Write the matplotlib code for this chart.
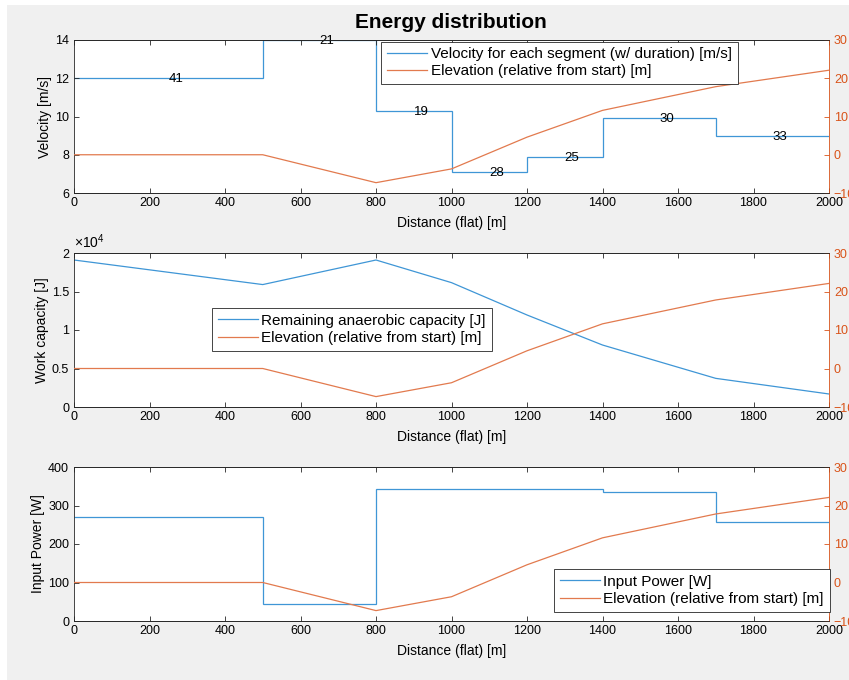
import matplotlib
matplotlib.use("Agg")
import matplotlib.pyplot as plt
from matplotlib.patches import Rectangle
from matplotlib.ticker import FuncFormatter

plt.rcParams["font.family"] = ["Liberation Sans", "DejaVu Sans"]
plt.rcParams["mathtext.fontset"] = "custom"
plt.rcParams["mathtext.rm"] = "Liberation Sans"
plt.rcParams["mathtext.it"] = "Liberation Sans"

# ---- data ----
edges = [0, 500, 800, 1000, 1200, 1400, 1700, 2000]
velocity = [12.0, 13.98, 10.28, 7.08, 7.87, 9.9, 8.98]
durations = [41, 21, 19, 28, 25, 30, 33]

elev_x = [0, 500, 800, 1000, 1200, 1400, 1700, 2000]
elevation = [0.0, 0.0, -7.3, -3.7, 4.6, 11.6, 17.8, 22.1]

cap_x = [0, 500, 800, 1000, 1200, 1400, 1700, 2000]
capacity = [19090, 15900, 19090, 16150, 11950, 8050, 3720, 1690]

power_edges = [0, 500, 800, 1400, 1700, 2000]
power = [270, 43, 343, 336, 257]

xticks = [0, 200, 400, 600, 800, 1000, 1200, 1400, 1600, 1800, 2000]
right_ticks = [-10, 0, 10, 20, 30]

# ---- style ----
BLUE = "#3f96d6"
ORANGE = "#e27a4e"
ORANGE_AX = "#D95319"
DARK = "#262626"
FIG_BG = "#f0f0f0"
LW = 0.9
TICK_FS = 9
LABEL_FS = 10
LEG_FS = 11

W, H = 849, 680
fig = plt.figure(figsize=(W / 100, H / 100), dpi=100)
fig.patch.set_facecolor("white")
fig.add_artist(Rectangle((7 / W, 0), 1 - 7 / W, 1 - 5 / H, transform=fig.transFigure,
                         facecolor=FIG_BG, edgecolor="none", zorder=-10))


def make_axes(top_px, bottom_px):
    left = 74 / W
    width = 755 / W
    bottom = 1 - bottom_px / H
    height = (bottom_px - top_px) / H
    ax = fig.add_axes([left, bottom, width, height])
    ax.set_facecolor("white")
    ax.set_xlim(0, 2000)
    ax.set_xticks(xticks)
    ax.tick_params(axis="x", direction="in", top=True, bottom=True, length=3.3,
                   width=0.6, color=DARK, labelsize=TICK_FS, pad=3)
    ax.tick_params(axis="y", direction="in", left=True, right=False, length=3.3,
                   width=0.6, color=DARK, labelsize=TICK_FS, pad=3.5)
    for s in ("left", "top", "bottom"):
        ax.spines[s].set_color(DARK)
        ax.spines[s].set_linewidth(0.6)
    ax.spines["right"].set_visible(False)
    ax.set_xlabel("Distance (flat) [m]", fontsize=LABEL_FS, labelpad=5)

    ax2 = ax.twinx()
    ax2.set_ylim(-10, 30)
    ax2.set_yticks(right_ticks)
    ax2.tick_params(axis="y", direction="in", right=True, left=False, length=3.3,
                    width=0.6, color=ORANGE_AX, labelcolor=ORANGE_AX,
                    labelsize=TICK_FS, pad=3.5)
    ax2.spines["right"].set_color(ORANGE_AX)
    ax2.spines["right"].set_linewidth(0.6)
    ax2.spines["left"].set_visible(False)
    ax2.spines["top"].set_color(DARK)
    ax2.spines["top"].set_linewidth(0.6)
    ax2.spines["bottom"].set_color(DARK)
    ax2.spines["bottom"].set_linewidth(0.6)
    return ax, ax2


def legend(ax2, handles, labels, x_px, y_px, ax_box):
    top_px, bottom_px = ax_box
    fx = (x_px - 74) / 755
    fy = (bottom_px - y_px) / (bottom_px - top_px)
    leg = ax2.legend(handles, labels, loc="upper left", bbox_to_anchor=(fx, fy),
                     borderaxespad=0, fontsize=LEG_FS, frameon=True, fancybox=False,
                     framealpha=1, edgecolor=DARK, handlelength=2.6,
                     handletextpad=0.25, borderpad=0.38, labelspacing=0.2)
    leg.get_frame().set_linewidth(0.6)
    return leg


# ---- velocity panel ----
box1 = (40, 193)
ax1, ax1r = make_axes(*box1)
h_v = ax1.stairs(velocity, edges, baseline=None, color=BLUE, linewidth=LW)
ax1.set_ylim(6, 14)
ax1.set_yticks([6, 8, 10, 12, 14])
ax1.set_ylabel("Velocity [m/s]", fontsize=LABEL_FS, labelpad=2)
for i, d in enumerate(durations):
    mid = (edges[i] + edges[i + 1]) / 2
    ax1.text(mid, velocity[i] - 0.05, str(d), ha="left", va="center", fontsize=9.5,
             color="black", zorder=5)
(h_e1,) = ax1r.plot(elev_x, elevation, color=ORANGE, linewidth=LW)
legend(ax1r, [h_v, h_e1],
       ["Velocity for each segment (w/ duration) [m/s]",
        "Elevation (relative from start) [m]"], 381.5, 41.5, box1)

# ---- work capacity panel ----
box2 = (253, 407)
ax2, ax2r = make_axes(*box2)
(h_c,) = ax2.plot(cap_x, capacity, color=BLUE, linewidth=LW)
ax2.set_ylim(0, 20000)
ax2.set_yticks([0, 5000, 10000, 15000, 20000])
ax2.yaxis.set_major_formatter(FuncFormatter(lambda v, p: f"{v / 1e4:g}"))
ax2.text(0.0, 1.015, r"$\times10^{4}$", transform=ax2.transAxes, fontsize=10,
         ha="left", va="bottom")
ax2.set_ylabel("Work capacity [J]", fontsize=LABEL_FS, labelpad=2)
(h_e2,) = ax2r.plot(elev_x, elevation, color=ORANGE, linewidth=LW)
legend(ax2r, [h_c, h_e2],
       ["Remaining anaerobic capacity [J]", "Elevation (relative from start) [m]"],
       212, 308, box2)

# ---- input power panel ----
box3 = (467, 621)
ax3, ax3r = make_axes(*box3)
h_p = ax3.stairs(power, power_edges, baseline=None, color=BLUE, linewidth=LW)
ax3.set_ylim(0, 400)
ax3.set_yticks([0, 100, 200, 300, 400])
ax3.set_ylabel("Input Power [W]", fontsize=LABEL_FS, labelpad=2)
(h_e3,) = ax3r.plot(elev_x, elevation, color=ORANGE, linewidth=LW)
legend(ax3r, [h_p, h_e3],
       ["Input Power [W]", "Elevation (relative from start) [m]"], 554, 569, box3)

fig.text(451 / W, 1 - 23 / H, "Energy distribution", ha="center", va="center",
         fontsize=15, fontweight="bold")

fig.savefig("out.png", dpi=100, facecolor=fig.get_facecolor())
